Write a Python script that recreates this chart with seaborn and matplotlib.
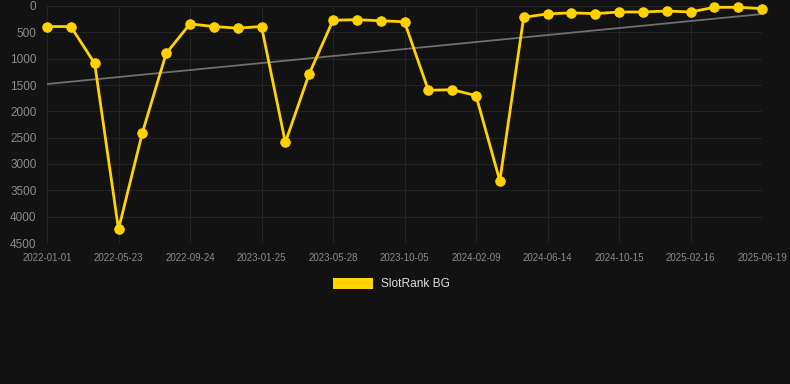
import numpy as np
import pandas as pd
import seaborn as sns
import matplotlib
matplotlib.use("Agg")
import matplotlib.pyplot as plt
from matplotlib.patches import Patch

# dates of the snapshots (every third one is labelled on the axis)
dates = ['2022-01-01', '2022-02-12', '2022-03-26', '2022-05-23', '2022-06-30', '2022-08-12',
         '2022-09-24', '2022-11-04', '2022-12-15', '2023-01-25', '2023-03-07', '2023-04-17',
         '2023-05-28', '2023-07-11', '2023-08-23', '2023-10-05', '2023-11-17', '2023-12-29',
         '2024-02-09', '2024-03-22', '2024-05-03', '2024-06-14', '2024-07-26', '2024-09-03',
         '2024-10-15', '2024-11-26', '2025-01-06', '2025-02-16', '2025-03-31', '2025-05-09',
         '2025-06-19']
ranks = [390, 390, 1090, 4240, 2410, 900, 340, 390, 420, 390,
         2590, 1290, 270, 260, 280, 300, 1600, 1590, 1700, 3320,
         215, 150, 130, 145, 114, 114, 95, 114, 25, 25, 50]
series_name = 'SlotRank BG'

bg = '#121212'
gold = '#FFD200'
txt = '#8c8c8c'

df = pd.DataFrame({'date': dates, 'rank': ranks})
df['pos'] = range(len(df))

# linear trend line
coef = np.polyfit(df['pos'], df['rank'], 1)
df['trend'] = np.polyval(coef, df['pos'])

sns.set_style('dark')
plt.rcParams['font.family'] = ['Liberation Sans', 'DejaVu Sans']

fig = plt.figure(figsize=(7.9, 3.84), dpi=100, facecolor=bg)
ax = fig.add_axes([47 / 790, 1 - 243 / 384, (762 - 47) / 790, (243 - 6) / 384])
ax.set_facecolor(bg)

sns.lineplot(data=df, x='pos', y='trend', ax=ax, color='#707070', linewidth=1.3, zorder=2)
sns.lineplot(data=df, x='pos', y='rank', ax=ax, color=gold, linewidth=2.0,
             marker='o', markersize=6.8, markeredgecolor=gold, zorder=3, clip_on=False)

ax.set_xlim(0, len(df) - 1)
ax.set_ylim(4500, 0)
ax.set_yticks(range(0, 4501, 500))
ax.set_xticks(df['pos'][::3])
ax.set_xticklabels(df['date'][::3])
ax.set_xlabel('')
ax.set_ylabel('')
ax.grid(True, color='#232323', linewidth=0.8)
for s in ax.spines.values():
    s.set_visible(False)
ax.tick_params(axis='y', colors=txt, labelsize=8.5, length=0, pad=7.5)
ax.tick_params(axis='x', colors=txt, labelsize=7, length=0, pad=7)

handle = Patch(facecolor=gold, edgecolor='none', linewidth=0, label=series_name)
leg = fig.legend(handles=[handle], loc='center',
                 bbox_to_anchor=(0.495, 0.26), frameon=False, fontsize=8.6,
                 handlelength=3.4, handleheight=1.0, handletextpad=0.6,
                 labelcolor='#dddddd')

fig.savefig('out.png', dpi=100, facecolor=bg)
